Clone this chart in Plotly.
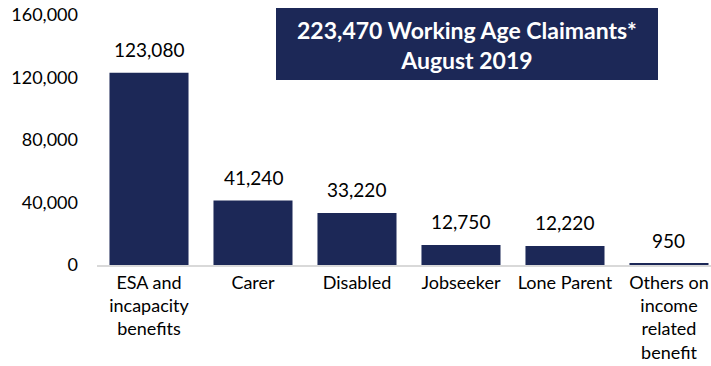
import plotly.graph_objects as go

categories = ["ESA and<br>incapacity<br>benefits", "Carer", "Disabled", "Jobseeker",
              "Lone Parent", "Others on<br>income<br>related<br>benefit"]
claimants = [123080, 41240, 33220, 12750, 12220, 950]
value_labels = ["123,080", "41,240", "33,220", "12,750", "12,220", "950"]
y_ticks = [0, 40000, 80000, 120000, 160000]
y_tick_labels = ["0", "40,000", "80,000", "120,000", "160,000"]

navy = "#1C2857"
font_family = "Lato, 'Open Sans', sans-serif"
positions = list(range(len(categories)))

fig = go.Figure(
    go.Bar(
        x=positions,
        y=claimants,
        width=0.76,
        marker=dict(color=navy, line=dict(width=0)),
    )
)

# value labels sitting above each bar
value_annotations = [
    dict(x=xv, y=yv, xref="x", yref="y", text=lbl, showarrow=False,
         yanchor="bottom", yshift=10,
         font=dict(family=font_family, size=19, color="#000000"))
    for xv, yv, lbl in zip(positions, claimants, value_labels)
]

title_box = dict(
    xref="paper", yref="paper",
    x=(467 - 97) / 614, y=(265 - 45) / 250,
    xanchor="center", yanchor="middle",
    text="<b>223,470 Working Age Claimants*<br>August 2019</b>",
    showarrow=False, align="center",
    font=dict(family=font_family, size=23, color="white"),
)

fig.update_layout(
    width=711,
    height=366,
    margin=dict(l=97, r=0, t=15, b=101),
    plot_bgcolor="white",
    paper_bgcolor="white",
    showlegend=False,
    font=dict(family=font_family, size=18, color="#000000"),
    xaxis=dict(
        tickmode="array",
        tickvals=positions,
        ticktext=categories,
        range=[-0.5, 5.404],
        showline=True,
        linecolor="#D9D9D9",
        linewidth=2,
        showgrid=False,
        ticks="",
        tickfont=dict(size=18),
    ),
    yaxis=dict(
        range=[0, 160000],
        tickmode="array",
        tickvals=y_ticks,
        ticktext=y_tick_labels,
        showgrid=False,
        zeroline=False,
        ticks="",
        ticklabelstandoff=18,
        tickfont=dict(size=18),
    ),
    shapes=[
        dict(type="rect", xref="paper", yref="paper",
             x0=(276 - 97) / 614, x1=(658 - 97) / 614,
             y0=(265 - 80) / 250, y1=(265 - 8) / 250,
             fillcolor=navy, line=dict(width=0), layer="below"),
    ],
    annotations=value_annotations + [title_box],
)

fig.write_html("out.html")
